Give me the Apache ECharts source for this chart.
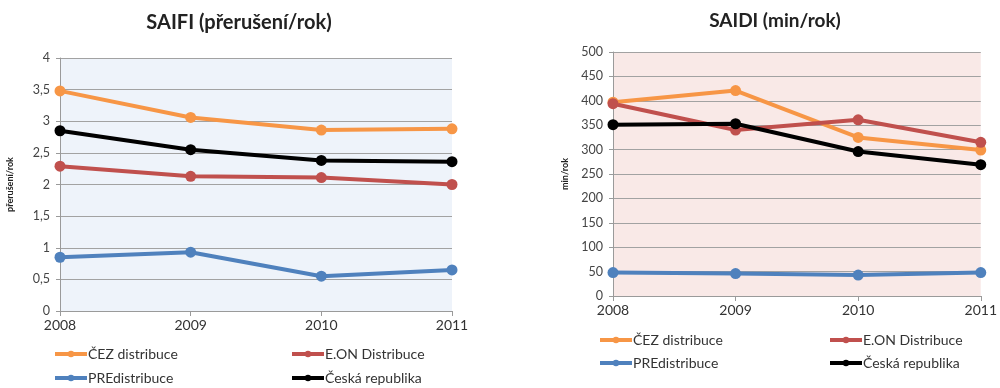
<!DOCTYPE html>
<html>
<head>
<meta charset="utf-8">
<title>SAIFI / SAIDI</title>
<script src="https://cdn.jsdelivr.net/npm/echarts@6/dist/echarts.min.js"></script>
<style>
  html, body { margin: 0; padding: 0; background: #fff; }
  #chart { width: 1000px; height: 388px; }
</style>
</head>
<body>
<div id="chart"></div>
<script>
// Years on the category axis
const years = ['2008', '2009', '2010', '2011'];

// Distribution companies and the national total
const seriesNames = ['ČEZ distribuce', 'E.ON Distribuce', 'PREdistribuce', 'Česká republika'];
const seriesColors = ['#f79646', '#c0504d', '#4f81bd', '#000000'];

// SAIFI – interruptions per customer per year
const saifiCez = [3.48, 3.06, 2.86, 2.88];
const saifiEon = [2.29, 2.13, 2.11, 2.00];
const saifiPre = [0.85, 0.93, 0.55, 0.65];
const saifiCr  = [2.85, 2.55, 2.38, 2.36];

// SAIDI – minutes of interruption per customer per year
const saidiCez = [397, 421, 325, 299];
const saidiEon = [394, 340, 361, 315];
const saidiPre = [48, 46, 43, 48];
const saidiCr  = [351, 353, 296, 269];

const FONT = 'Lato, "Open Sans", sans-serif';

const saifiData = [saifiCez, saifiEon, saifiPre, saifiCr];
const saidiData = [saidiCez, saidiEon, saidiPre, saidiCr];

function makeSeries(dataSets, axisIndex) {
  return dataSets.map((d, i) => ({
    name: seriesNames[i],
    type: 'line',
    xAxisIndex: axisIndex,
    yAxisIndex: axisIndex,
    data: d,
    symbol: 'circle',
    symbolSize: 11,
    lineStyle: { width: 4, color: seriesColors[i] },
    itemStyle: { color: seriesColors[i] },
    z: i === 3 ? 3 : 2
  }));
}

function xAxis(gridIndex) {
  return {
    type: 'category',
    gridIndex,
    data: years,
    boundaryGap: false,
    axisLine: { lineStyle: { color: '#9a9a9a', width: 1 } },
    axisTick: { show: true, alignWithLabel: true, length: 5, lineStyle: { color: '#9a9a9a' } },
    axisLabel: { color: '#333', fontSize: 14, fontFamily: FONT, margin: 7 },
    splitLine: { show: false }
  };
}

function yAxis(gridIndex, max, interval, name, decimalComma) {
  return {
    type: 'value',
    gridIndex,
    min: 0,
    max,
    interval,
    name,
    nameLocation: 'middle',
    nameRotate: 90,
    nameGap: gridIndex === 0 ? 45 : 43,
    nameTextStyle: { fontSize: 9, fontWeight: 'bold', color: '#222', fontFamily: FONT },
    axisLine: { show: true, lineStyle: { color: '#9a9a9a' } },
    axisTick: { show: true, length: 4, lineStyle: { color: '#9a9a9a' } },
    axisLabel: {
      color: '#444', fontSize: 12.5, fontFamily: FONT, margin: 10,
      formatter: v => decimalComma ? String(v).replace('.', ',') : String(v)
    },
    splitLine: { show: true, lineStyle: { color: '#a2a2a2', width: 1 } }
  };
}

function legendItem(name, left, top) {
  return {
    data: [name],
    left, top,
    itemWidth: 32,
    itemHeight: 8,
    itemGap: 0,
    padding: 0,
    lineStyle: { width: 4 },
    textStyle: { fontSize: 14, color: '#333', fontFamily: FONT, padding: [0, 0, 0, -4] }
  };
}

const chart = echarts.init(document.getElementById('chart'), null, { renderer: 'canvas' });

chart.setOption({
  animation: false,
  backgroundColor: '#ffffff',
  title: [
    {
      text: 'SAIFI (přerušení/rok)', left: 234, top: 8, textAlign: 'center',
      textStyle: { fontSize: 20, fontWeight: 'bold', color: '#222', fontFamily: FONT }
    },
    {
      text: 'SAIDI (min/rok)', left: 770, top: 6, textAlign: 'center',
      textStyle: { fontSize: 19, fontWeight: 'bold', color: '#222', fontFamily: FONT }
    }
  ],
  grid: [
    { left: 60, right: 548, top: 58, bottom: 77, show: true, backgroundColor: '#eef3fa', borderWidth: 0 },
    { left: 613, right: 16, top: 52, bottom: 92, show: true, backgroundColor: '#f9e9e7', borderWidth: 0 }
  ],
  xAxis: [xAxis(0), xAxis(1)],
  yAxis: [
    yAxis(0, 4, 0.5, 'přerušení/rok', true),
    yAxis(1, 500, 50, 'min/rok', false)
  ],
  legend: [
    legendItem(seriesNames[0], 53, 347),
    legendItem(seriesNames[1], 290, 347),
    legendItem(seriesNames[2], 53, 371),
    legendItem(seriesNames[3], 290, 371),
    legendItem(seriesNames[0], 598, 333),
    legendItem(seriesNames[1], 828, 333),
    legendItem(seriesNames[2], 598, 356),
    legendItem(seriesNames[3], 828, 356)
  ],
  series: [...makeSeries(saifiData, 0), ...makeSeries(saidiData, 1)]
});
</script>
</body>
</html>
